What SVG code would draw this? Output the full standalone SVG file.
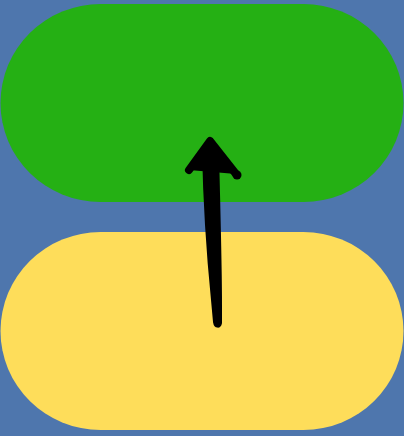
<svg xmlns="http://www.w3.org/2000/svg" width="404" height="436" viewBox="0 0 404 436">
<style>
.bg{fill:#4e76ad}
.node{stroke:none}
.arrow{fill:#000;stroke:#000;stroke-linecap:round;stroke-linejoin:round}
</style>
<rect class="bg" x="0" y="0" width="404" height="436"/>
<g id="node-green"><rect class="node" x="0.5" y="4" width="403" height="198" rx="100" ry="99" fill="#25b014"/></g>
<g id="node-yellow"><rect class="node" x="0.5" y="232" width="403" height="198" rx="100" ry="99" fill="#fedd5a"/></g>
<g id="connectors">
<path class="arrow" stroke-width="2" d="M203,150 C204,200 207,250 212,300 L214,322 C215,328 220,328 221,323 L221,305 C221,260 219,200 218,150 Z"/>
<path class="arrow" fill="none" stroke-width="8" d="M189,170 L210,141 L236,174"/>
<path class="arrow" stroke-width="2" d="M204,148 L210,140 L216,146 L218,152 L203,152 Z"/>
<circle cx="237" cy="175" r="4.5" fill="#000"/>
</g>
</svg>
